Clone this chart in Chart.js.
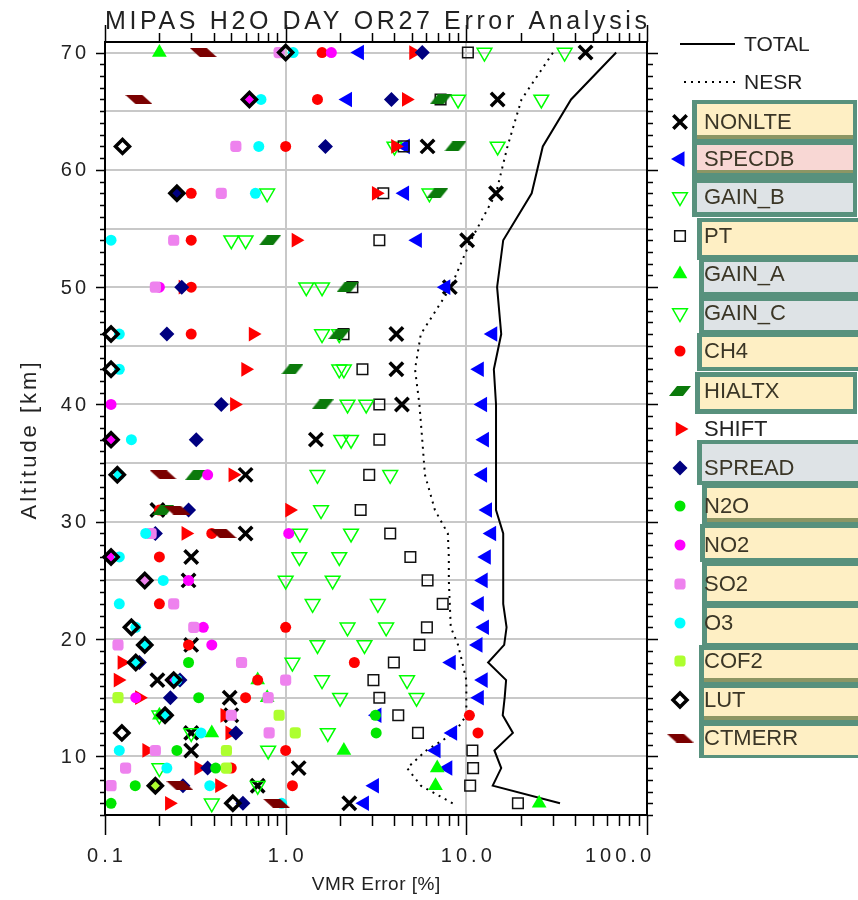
<!DOCTYPE html>
<html>
<head>
  <title>MIPAS H2O DAY OR27 Error Analysis</title>
  <script src="https://cdn.jsdelivr.net/npm/chart.js"></script>
  <style>
    body { margin: 0; background: #fff; }
    .chart-container { position: relative; width: 858px; height: 900px; }
  </style>
</head>
<body>
  <div class="chart-container">
    <canvas id="errorChart"></canvas>
  </div>

  <script>
    // tangent altitudes [km], bottom to top
    const altitudes = [6, 7.5, 9, 10.5, 12, 13.5, 15, 16.5, 18, 19.5, 21, 23, 25, 27, 29, 31, 34, 37, 40, 43, 46, 50, 54, 58, 62, 66, 70];

    // VMR error [%] per error source, null = below 0.1 %
    const totalErr = [33, 14.0, 15.6, 14.3, 18.1, 15.9, 16.3, 16.6, 13.2, 16.2, 16.7, 16.0, 16.0, 16.0, 16.0, 14.6, 14.6, 14.6, 14.6, 14.2, 15.6, 14.8, 16.0, 23.0, 26.5, 38, 67.5];
    const nesrErr = [8.4, 5.6, 4.7, 6.0, 8.6, 10, 10, 10, 9.5, 9.0, 8.2, 8.1, 8.0, 8.0, 7.9, 6.7, 5.9, 5.7, 5.5, 5.2, 5.6, 8.2, 10.6, 14.6, 16.9, 20.2, 30.2];
    const nonlte = [2.25, 0.7, 1.18, 0.3, 0.3, 0.5, 0.49, 0.195, null, 0.3, null, null, 0.29, 0.3, 0.6, 0.195, 0.6, 1.47, 4.4, 4.1, 4.1, 8.1, 10.1, 14.6, 6.1, 14.9, 45.7];
    const specdb = [2.73, 3.1, 7.9, 6.8, 8.4, 3.2, 11.8, 12.4, 8.25, 11.6, 12.6, 11.8, 12.4, 12.9, 13.8, 13.1, 12.3, 12.6, 12.3, 11.8, 14.0, 7.7, 5.36, 4.55, 4.6, 2.2, 2.56];
    const gainB = [0.39, 0.7, 0.2, 0.8, 0.3, 0.2, 2.0, 1.59, 1.09, 1.5, 2.2, 1.41, 1.0, 1.19, 1.2, 1.57, 1.5, 2.03, 2.2, 1.98, 1.59, 1.3, 0.5, 0.79, 4.0, 9.0, 12.6];
    const pt = [19.3, 10.5, 10.9, 10.8, 5.4, 4.2, 3.3, 3.06, 3.97, 5.5, 6.05, 7.4, 6.1, 4.9, 3.79, 2.6, 2.9, 3.3, 3.3, 2.66, 2.09, 2.34, 3.3, 3.47, 4.5, 7.2, 10.2];
    const gainA = [25.3, 6.75, 6.9, 2.1, 0.39, 0.2, 0.79, 0.7, null, null, null, null, null, null, null, null, null, null, null, null, null, null, null, null, null, null, 0.2];
    const gainC = [null, null, null, null, 1.71, null, 5.3, 4.7, null, 2.73, 3.6, 3.24, 1.82, 1.98, 2.3, null, 3.79, 2.3, 2.79, 2.1, 1.98, 1.59, 0.6, 6.25, 14.9, 26, 35];
    const ch4 = [null, 1.09, 0.5, 1.0, 11.6, 10.4, 0.6, 0.7, 2.4, 0.29, 1.0, 0.2, null, 0.2, 0.39, 0.2, null, null, null, null, 0.3, 0.3, 0.3, 0.3, 1.0, 1.5, 1.59];
    const hialtx = [null, null, null, null, null, null, null, null, null, null, null, null, null, null, null, 0.21, 0.32, null, 1.6, 1.09, 1.98, 2.2, 0.82, 6.9, 8.7, 7.2, null];
    const shift = [0.227, 0.43, 0.33, 0.17, 0.49, 0.46, 0.155, 0.118, 0.124, null, null, null, null, null, 0.28, 1.05, 0.51, null, 0.52, 0.6, 0.66, 0.27, 1.14, 3.17, 4.05, 4.65, 5.1];
    const spread = [0.58, 0.27, 0.37, null, 0.53, null, 0.23, 0.26, 0.155, null, null, null, null, null, 0.19, 0.29, null, 0.32, 0.44, null, 0.22, 0.266, null, 0.25, 1.66, 3.85, 5.7];
    const n2o = [0.108, 0.147, 0.41, 0.25, 3.17, 3.14, 0.33, null, 0.29, null, null, null, null, null, null, null, null, null, null, null, null, null, null, null, null, null, null];
    const no2 = [null, null, null, null, null, null, 0.148, 0.24, null, 0.39, 0.35, null, 0.29, 0.108, 1.04, null, 0.37, 0.108, 0.108, null, null, 0.2, null, null, null, 0.63, 1.79];
    const so2 = [null, 0.108, 0.13, 0.19, 0.81, 0.5, 0.8, 1.0, 0.57, 0.118, 0.31, 0.24, 0.166, null, 0.18, null, null, null, null, null, null, 0.19, 0.24, 0.44, 0.53, null, 0.92];
    const o3 = [0.95, 0.38, 0.22, 0.12, 0.34, 0.22, null, 0.25, 0.15, 0.17, 0.148, 0.12, 0.21, 0.12, 0.168, null, 0.12, 0.14, null, 0.12, 0.12, null, 0.108, 0.68, 0.71, 0.73, 1.1];
    const cof2 = [null, 0.19, 0.47, 0.47, 1.13, 0.92, 0.118, null, null, null, null, null, null, null, null, null, null, null, null, null, null, null, null, null, null, null, null];
    const lut = [0.51, 0.19, null, null, 0.124, 0.215, null, 0.24, 0.148, 0.166, 0.14, null, 0.166, 0.108, null, null, 0.117, 0.108, null, 0.108, 0.108, null, null, 0.25, 0.125, 0.63, 1.0];
    const ctmerr = [0.89, 0.26, null, null, null, null, null, null, null, null, null, null, null, null, 0.45, 0.25, 0.21, null, null, null, null, null, null, null, null, 0.154, 0.35];

    const xTickValues = [0.1, 1, 10, 100];
    const xTickLabels = ['0.1', '1.0', '10.0', '100.0'];
    const yTickValues = [10, 20, 30, 40, 50, 60, 70];

    // slanted bar markers for the two continuum/high-altitude terms
    function slab(color, w, h, lean, rise) {
      const c = document.createElement('canvas');
      c.width = w; c.height = h;
      const g = c.getContext('2d');
      g.fillStyle = color;
      g.beginPath();
      if (rise) {
        g.moveTo(lean, 0); g.lineTo(w, 0); g.lineTo(w - lean, h); g.lineTo(0, h);
      } else {
        g.moveTo(0, 0); g.lineTo(w - lean, 0); g.lineTo(w, h); g.lineTo(lean, h);
      }
      g.closePath();
      g.fill();
      return c;
    }
    const hialtxMark = slab('#0b7a0b', 22, 10, 8, true);
    const ctmerrMark = slab('#7a0000', 27, 9, 10, false);

    const none = 'rgba(0,0,0,0)';
    const sources = [
      { name: 'NONLTE', data: nonlte, style: 'crossRot', r: 9.5, rot: 0, fill: none, line: '#000', w: 3.5, box: 'y' },
      { name: 'SPECDB', data: specdb, style: 'triangle', r: 9, rot: -90, fill: '#0000ff', line: '#0000ff', w: 0, box: 'p' },
      { name: 'GAIN_B', data: gainB, style: 'triangle', r: 8.5, rot: 180, fill: none, line: '#00ff00', w: 1.5, box: 'g' },
      { name: 'PT', data: pt, style: 'rect', r: 7.5, rot: 0, fill: none, line: '#111', w: 1.5, box: 'y' },
      { name: 'GAIN_A', data: gainA, style: 'triangle', r: 8.5, rot: 0, fill: '#00ff00', line: '#00ff00', w: 0, box: 'g' },
      { name: 'GAIN_C', data: gainC, style: 'triangle', r: 8.5, rot: 180, fill: none, line: '#00ff00', w: 1.5, box: 'g' },
      { name: 'CH4', data: ch4, style: 'circle', r: 5.5, rot: 0, fill: '#ff0000', line: '#ff0000', w: 0, box: 'y' },
      { name: 'HIALTX', data: hialtx, style: hialtxMark, r: 8, rot: 0, fill: none, line: none, w: 0, box: 'y' },
      { name: 'SHIFT', data: shift, style: 'triangle', r: 8.5, rot: 90, fill: '#ff0000', line: '#ff0000', w: 0, box: null },
      { name: 'SPREAD', data: spread, style: 'rectRot', r: 7.5, rot: 0, fill: '#000080', line: '#000080', w: 0, box: 'g' },
      { name: 'N2O', data: n2o, style: 'circle', r: 5.5, rot: 0, fill: '#00e600', line: '#00e600', w: 0, box: 'y' },
      { name: 'NO2', data: no2, style: 'circle', r: 5.5, rot: 0, fill: '#ff00ff', line: '#ff00ff', w: 0, box: 'y' },
      { name: 'SO2', data: so2, style: 'rectRounded', r: 6.5, rot: 0, fill: '#ee82ee', line: '#ee82ee', w: 0, box: 'y' },
      { name: 'O3', data: o3, style: 'circle', r: 5.5, rot: 0, fill: '#00ffff', line: '#00ffff', w: 0, box: 'y' },
      { name: 'COF2', data: cof2, style: 'rectRounded', r: 6.5, rot: 0, fill: '#adff2f', line: '#adff2f', w: 0, box: 'y' },
      { name: 'LUT', data: lut, style: 'rectRot', r: 7, rot: 0, fill: none, line: '#000', w: 3.5, box: 'y' },
      { name: 'CTMERR', data: ctmerr, style: ctmerrMark, r: 8, rot: 0, fill: none, line: none, w: 0, box: 'y' }
    ];

    function pairs(vals) {
      return altitudes.map((a, i) => ({ x: vals[i], y: a })).filter(p => p.x !== null);
    }

    const datasets = sources.map((s, i) => ({
      label: s.name,
      data: pairs(s.data),
      pointStyle: s.style,
      pointRadius: s.r,
      pointRotation: s.rot,
      pointBackgroundColor: s.fill,
      pointBorderColor: s.line,
      pointBorderWidth: s.w,
      order: sources.length - i,
      clip: 12
    }));
    datasets.push({
      label: 'TOTAL', data: pairs(totalErr), showLine: true, pointRadius: 0,
      borderColor: '#000', borderWidth: 2, order: 40, clip: 4
    });
    datasets.push({
      label: 'NESR', data: pairs(nesrErr), showLine: true, pointRadius: 0,
      borderColor: '#000', borderWidth: 2, borderDash: [2, 5], order: 41, clip: 4
    });

    // highlight boxes behind the legend names
    const teal = '#58917d';
    const fills = { y: '#feefc4', p: '#f8d7d4', g: '#dee3e6' };
    const boxFrames = [
      [692, 100, 857, 217], [697, 218, 860, 260], [699, 258, 860, 298], [699, 297, 860, 334],
      [697, 333, 860, 371], [695, 372, 857, 414], [697, 440, 860, 485], [702, 484, 860, 526],
      [700, 524, 860, 562], [702, 562, 860, 606], [702, 604, 860, 647], [699, 645, 860, 687],
      [699, 684, 860, 723], [699, 721, 860, 758]
    ];
    const boxCells = [
      [697, 104, 853, 136, 'y'], [697, 145, 853, 172, 'p'], [697, 183, 853, 212, 'g'],
      [702, 222, 860, 255, 'y'], [704, 262, 860, 292, 'g'], [704, 301, 860, 330, 'g'],
      [702, 337, 860, 367, 'y'], [700, 377, 853, 409, 'y'], [702, 444, 860, 481, 'g'],
      [707, 488, 860, 519, 'y'], [705, 528, 860, 558, 'y'], [707, 566, 860, 601, 'y'],
      [707, 608, 860, 643, 'y'], [704, 650, 860, 679, 'y'], [704, 688, 860, 717, 'y'],
      [704, 726, 860, 755, 'y']
    ];
    const boxStrips = [[697, 135, 853, 139], [697, 170, 853, 173], [707, 518, 860, 522], [704, 678, 860, 682], [704, 716, 860, 720]];
    const legendRows = [122, 159, 197, 236, 274, 313, 351, 391, 429, 468, 506, 545, 584, 623, 661, 700, 738];

    // text with extra tracking; align is 'left', 'center' or 'right'
    function spaced(ctx, text, x, y, spacing, align) {
      ctx.letterSpacing = spacing + 'px';
      const w = ctx.measureText(text).width - spacing;
      const x0 = align === 'center' ? x - w / 2 : align === 'right' ? x - w : x;
      ctx.textAlign = 'left';
      ctx.fillText(text, x0, y);
      ctx.letterSpacing = '0px';
    }

    const decorations = {
      id: 'decorations',
      afterDraw(chart) {
        const { ctx, chartArea: a } = chart;
        const xs = chart.scales.x;
        const ys = chart.scales.y;
        ctx.save();

        // axis ticks on all four sides
        ctx.strokeStyle = '#000';
        ctx.lineWidth = 1.5;
        ctx.beginPath();
        for (let v = 5; v <= 70; v++) {
          const py = Math.round(ys.getPixelForValue(v)) + 0.5;
          const major = v % 10 === 0;
          ctx.moveTo(a.left - (major ? 9 : 5), py); ctx.lineTo(a.left, py);
          ctx.moveTo(a.right, py); ctx.lineTo(a.right + (major ? 11 : 6), py);
        }
        for (const d of [0.1, 1, 10]) {
          for (let k = 1; k <= 10; k++) {
            const px = Math.round(xs.getPixelForValue(d * k)) + 0.5;
            const major = k === 1 || k === 10;
            ctx.moveTo(px, a.bottom); ctx.lineTo(px, a.bottom + (major ? 20 : 11));
            ctx.moveTo(px, a.top); ctx.lineTo(px, a.top - (major ? 17 : 9));
          }
        }
        ctx.stroke();
        ctx.lineWidth = 2;
        ctx.strokeRect(a.left, a.top, a.right - a.left, a.bottom - a.top);

        // tick labels and axis titles
        ctx.fillStyle = '#222';
        ctx.textBaseline = 'middle';
        ctx.font = '20px "Liberation Sans"';
        yTickValues.forEach(v => spaced(ctx, String(v), 86, ys.getPixelForValue(v) + 1, 3, 'right'));
        xTickValues.forEach((v, i) => {
          const last = i === xTickValues.length - 1;
          spaced(ctx, xTickLabels[i], last ? a.right + 4 : xs.getPixelForValue(v), 856, 4, last ? 'right' : 'center');
        });
        ctx.font = '19px "Liberation Sans"';
        spaced(ctx, 'VMR Error [%]', (a.left + a.right) / 2, 885, 0.5, 'center');
        ctx.save();
        ctx.translate(30, 441);
        ctx.rotate(-Math.PI / 2);
        ctx.font = '22px "Liberation Sans"';
        spaced(ctx, 'Altitude [km]', 0, 0, 3, 'center');
        ctx.restore();

        // title stretched across the plot width
        const title = 'MIPAS H2O DAY OR27 Error Analysis';
        ctx.font = '25px "Liberation Sans"';
        ctx.textBaseline = 'alphabetic';
        ctx.letterSpacing = '0px';
        const w0 = ctx.measureText(title).width;
        spaced(ctx, title, a.left, 29, (a.right - a.left - w0) / (title.length - 1), 'left');

        // legend: line keys
        ctx.font = '21px "Liberation Sans"';
        ctx.textBaseline = 'middle';
        ctx.lineWidth = 2;
        ctx.beginPath(); ctx.moveTo(680, 44); ctx.lineTo(735, 44); ctx.stroke();
        ctx.setLineDash([2, 5]);
        ctx.beginPath(); ctx.moveTo(684, 82); ctx.lineTo(735, 82); ctx.stroke();
        ctx.setLineDash([]);
        ctx.textAlign = 'left';
        ctx.fillText('TOTAL', 744, 45);
        ctx.fillText('NESR', 744, 83);

        // legend: highlight boxes
        ctx.fillStyle = teal;
        boxFrames.forEach(([x0, y0, x1, y1]) => ctx.fillRect(x0, y0, x1 - x0, y1 - y0));
        boxCells.forEach(([x0, y0, x1, y1, f]) => { ctx.fillStyle = fills[f]; ctx.fillRect(x0, y0, x1 - x0, y1 - y0); });
        ctx.fillStyle = '#8c9664';
        boxStrips.forEach(([x0, y0, x1, y1]) => ctx.fillRect(x0, y0, x1 - x0, y1 - y0));

        // legend: markers and names
        ctx.font = '22px "Liberation Sans"';
        sources.forEach((s, i) => {
          const ly = legendRows[i];
          ctx.fillStyle = s.fill;
          ctx.strokeStyle = s.line;
          ctx.lineWidth = s.w;
          Chart.helpers.drawPoint(ctx, { pointStyle: s.style, radius: s.r, rotation: s.rot, borderWidth: s.w }, 680, ly);
          ctx.fillStyle = s.box ? '#3b3626' : '#222';
          ctx.fillText(s.name, 704, ly + 1);
        });
        ctx.restore();
      }
    };

    const ctx = document.getElementById('errorChart').getContext('2d');
    const chart = new Chart(ctx, {
      type: 'scatter',
      data: { datasets },
      options: {
        responsive: true,
        maintainAspectRatio: false,
        animation: false,
        layout: { padding: { left: 0, top: 42, right: 211, bottom: 0 } },
        plugins: { legend: { display: false }, tooltip: { enabled: false } },
        scales: {
          x: {
            type: 'logarithmic',
            min: 0.1,
            max: 100,
            afterFit: (s) => { s.height = 85; },
            afterBuildTicks: (s) => {
              const t = [];
              for (const d of [0.1, 1, 10]) for (let k = 1; k <= 9; k++) t.push({ value: d * k });
              t.push({ value: 100 });
              s.ticks = t;
            },
            border: { display: false },
            grid: {
              drawTicks: false,
              lineWidth: 2,
              color: (c) => (c.tick && (c.tick.value === 1 || c.tick.value === 10)) ? '#c8c8c8' : 'rgba(0,0,0,0)'
            },
            ticks: { display: false, autoSkip: false }
          },
          y: {
            type: 'linear',
            min: 5,
            max: 70.9,
            afterFit: (s) => { s.width = 105; },
            afterBuildTicks: (s) => {
              const t = [];
              for (let v = 5; v <= 70; v++) t.push({ value: v });
              s.ticks = t;
            },
            border: { display: false },
            grid: {
              drawTicks: false,
              lineWidth: 2,
              color: (c) => (c.tick && c.tick.value % 5 === 0) ? '#c8c8c8' : 'rgba(0,0,0,0)'
            },
            ticks: { display: false, autoSkip: false }
          }
        }
      },
      plugins: [decorations]
    });
  </script>
</body>
</html>
